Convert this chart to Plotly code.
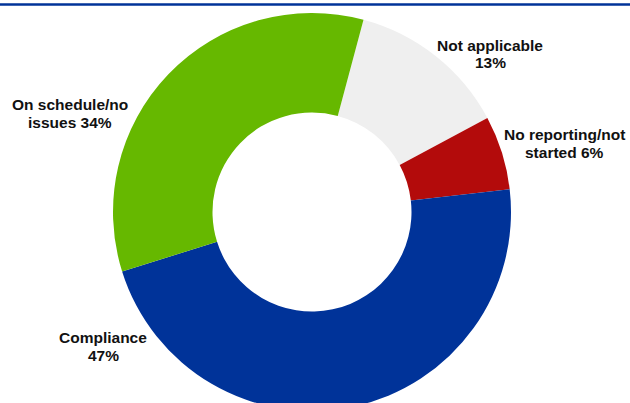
import plotly.graph_objects as go

# Status breakdown (percent), listed clockwise from the top
labels = ["Not applicable", "No reporting/not started", "Compliance", "On schedule/no issues"]
values = [13, 6, 47, 34]
colors = ["#efefef", "#b30b0b", "#003399", "#66b800"]

# Two-line label text: first line, and the word that precedes the percentage
label_first = ["Not applicable", "No reporting/not", "Compliance", "On schedule/no"]
label_second_prefix = ["", "started ", "", "issues "]

# Label centre points in pixels (x, y) on the page
label_px = [(490, 54), (564, 143.5), (103, 346.5), (70, 113.5)]
LINE_GAP = 18

W, H = 630, 425
L, R, T, B = 113, 119, 13, 14
PW, PH = W - L - R, H - T - B


def to_paper(px, py):
    return (px - L) / PW, 1 - (py - T) / PH


fig = go.Figure(
    go.Pie(
        labels=labels,
        values=values,
        hole=0.5,
        sort=False,
        direction="clockwise",
        rotation=15,
        marker=dict(colors=colors, line=dict(width=0)),
        textinfo="none",
        hoverinfo="label+percent",
        showlegend=False,
    )
)

font = dict(family="Liberation Sans, Arial, sans-serif", size=15.5, color="#111111")
for first, prefix, v, (px, py) in zip(label_first, label_second_prefix, values, label_px):
    for text, dy in ((first, -LINE_GAP / 2), (f"{prefix}{v}%", LINE_GAP / 2)):
        ax, ay = to_paper(px, py + dy)
        fig.add_annotation(
            x=ax, y=ay, xref="paper", yref="paper",
            text=f"<b>{text}</b>", showarrow=False,
            xanchor="center", yanchor="middle", align="center",
            font=font,
        )

# Thin rule across the top of the page
_, y_rule = to_paper(0, 4.5)
fig.add_shape(type="line", xref="paper", yref="paper",
              x0=to_paper(0, 0)[0], x1=to_paper(W, 0)[0], y0=y_rule, y1=y_rule,
              line=dict(color="#003399", width=2.5))

fig.update_layout(
    width=W, height=H,
    margin=dict(l=L, r=R, t=T, b=B, pad=0),
    paper_bgcolor="white",
    plot_bgcolor="white",
)

fig.write_html(
    "out.html",
    config={"displayModeBar": False},
    post_script="document.documentElement.style.overflow='hidden';"
                "document.body.style.overflow='hidden';document.body.style.margin='0';",
)
